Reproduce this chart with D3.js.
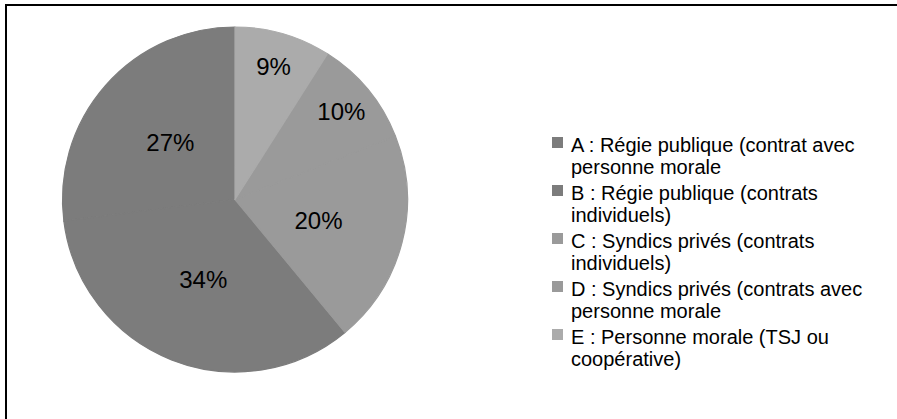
<!DOCTYPE html>
<html>
<head>
<meta charset="utf-8">
<script src="https://cdn.jsdelivr.net/npm/d3@7"></script>
<style>
  body { margin: 0; background: #fff; }
  svg { display: block; font-family: "Liberation Sans", Arial, sans-serif; }
</style>
</head>
<body>
<svg id="chart" width="897" height="419"></svg>
<script>
// categories, in data order (drawn counter-clockwise from 12 o'clock)
var categories = ["A", "B", "C", "D", "E"];
var legendLines = [
	["A : Régie publique (contrat avec", "personne morale"],
	["B : Régie publique (contrats", "individuels)"],
	["C : Syndics privés (contrats", "individuels)"],
	["D : Syndics privés (contrats avec", "personne morale"],
	["E : Personne morale (TSJ ou", "coopérative)"]
];
var shares = [27, 34, 20, 10, 9];
var colors = ["#7c7c7c", "#7c7c7c", "#9a9a9a", "#9a9a9a", "#ababab"];

var svg = d3.select("#chart");

// frame
svg.append("rect")
	.attr("x", 6).attr("y", 5)
	.attr("width", 900).attr("height", 430)
	.attr("fill", "none")
	.attr("stroke", "#000")
	.attr("stroke-width", 2);

var cx = 235, cy = 199.5, R = 172.5;

var data = categories.map(function(c, i) { return {cat: c, value: shares[i], color: colors[i]}; });

// negative end angle so the slices run counter-clockwise
var pie = d3.pie()
	.sort(null)
	.value(function(d) { return d.value; })
	.startAngle(0)
	.endAngle(-2 * Math.PI);

var arc = d3.arc().innerRadius(0).outerRadius(R);

var g = svg.append("g").attr("transform", "translate(" + cx + "," + cy + ")");
var arcs = pie(data);

// same-colour stroke hides the anti-aliasing seam between slices
g.selectAll("path.slice")
	.data(arcs)
	.enter().append("path")
	.attr("class", "slice")
	.attr("d", arc)
	.attr("fill", function(d) { return d.data.color; })
	.attr("stroke", function(d) { return d.data.color; })
	.attr("stroke-width", 1.2)
	.attr("stroke-linejoin", "round");

// small slices get their label pushed out toward the rim
g.selectAll("text.lbl")
	.data(arcs)
	.enter().append("text")
	.attr("class", "lbl")
	.attr("transform", function(d) {
		var r = d.data.value < 15 ? R * 0.8 : R * 0.5;
		var a = (d.startAngle + d.endAngle) / 2;
		return "translate(" + (Math.sin(a) * r) + "," + (-Math.cos(a) * r) + ")";
	})
	.attr("text-anchor", "middle")
	.attr("dy", "0.35em")
	.attr("font-size", 24)
	.attr("fill", "#000")
	.text(function(d) { return d.data.value + "%"; });

// legend
var legend = svg.append("g").attr("transform", "translate(552,0)");
var item = legend.selectAll("g.item")
	.data(data)
	.enter().append("g")
	.attr("class", "item")
	.attr("transform", function(d, i) { return "translate(0," + (145 + i * 48) + ")"; });

item.append("rect")
	.attr("x", 0).attr("y", -8)
	.attr("width", 11).attr("height", 11)
	.attr("fill", function(d) { return d.color; });

item.each(function(d, i) {
	var t = d3.select(this).append("text")
		.attr("x", 19)
		.attr("font-size", 20)
		.attr("fill", "#000");
	legendLines[i].forEach(function(line, j) {
		t.append("tspan")
			.attr("x", 19)
			.attr("y", j * 21.5)
			.attr("dy", "0.35em")
			.text(line);
	});
});
</script>
</body>
</html>
